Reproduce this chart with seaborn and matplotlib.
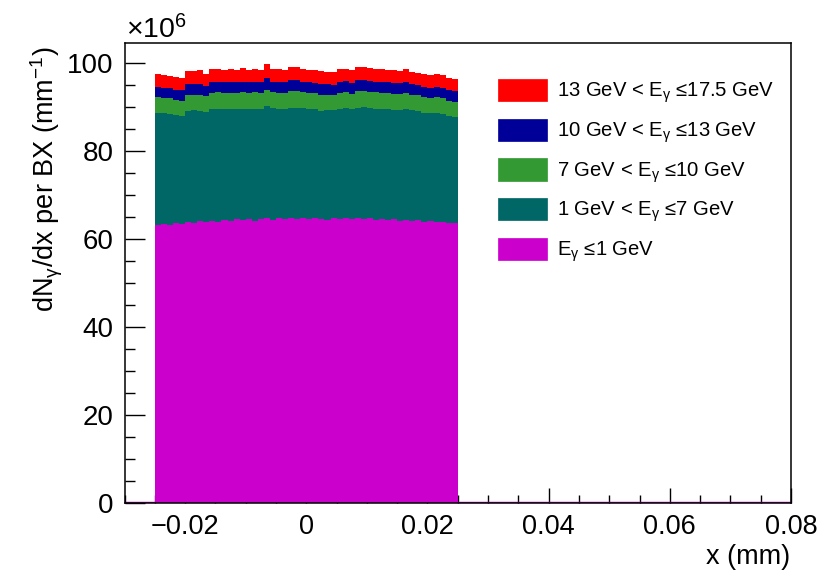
import numpy as np
import pandas as pd
import matplotlib
matplotlib.use("Agg")
import matplotlib.pyplot as plt
from matplotlib.ticker import MultipleLocator, FixedLocator, FixedFormatter
from matplotlib.patches import Patch
import seaborn as sns

# ---------------- data (units of 1e6 per mm, 50 bins from -0.025 to 0.025 mm) -------------
x_lo, x_hi, n_bins = -0.025, 0.025, 50

band_labels = [
    "13 GeV < E$_{\\gamma}$ \u226417.5 GeV",
    "10 GeV < E$_{\\gamma}$ \u226413 GeV",
    "7 GeV < E$_{\\gamma}$ \u226410 GeV",
    "1 GeV < E$_{\\gamma}$ \u22647 GeV",
    "E$_{\\gamma}$ \u22641 GeV",
]

red_13_175 = [2.8, 2.9, 2.8, 2.9, 2.7, 3.0, 2.9, 3.0, 2.8, 2.9,
              3.0, 2.9, 3.0, 2.8, 3.1, 2.9, 3.0, 2.8, 3.3, 2.9,
              3.0, 2.9, 3.1, 3.0, 2.9, 2.8, 3.0, 2.9, 2.8, 2.9,
              3.0, 2.9, 3.0, 3.1, 3.0, 2.9, 3.0, 2.9, 2.8, 2.9,
              2.8, 3.0, 2.8, 2.9, 2.8, 2.9, 2.8, 2.9, 2.7, 2.8]

blue_10_13 = [2.4, 2.3, 2.4, 2.3, 2.4, 2.5, 2.4, 2.5, 2.3, 2.5,
              2.4, 2.5, 2.4, 2.5, 2.4, 2.5, 2.4, 2.5, 2.6, 2.4,
              2.5, 2.4, 2.5, 2.5, 2.4, 2.5, 2.4, 2.5, 2.4, 2.3,
              2.5, 2.4, 2.5, 2.5, 2.4, 2.5, 2.4, 2.5, 2.4, 2.4,
              2.5, 2.4, 2.4, 2.3, 2.4, 2.3, 2.4, 2.3, 2.4, 2.3]

green_7_10 = [3.6, 3.5, 3.6, 3.5, 3.4, 3.7, 3.6, 3.7, 3.5, 3.6,
              3.7, 3.6, 3.7, 3.6, 3.7, 3.6, 3.7, 3.6, 3.8, 3.6,
              3.7, 3.6, 3.7, 3.7, 3.6, 3.7, 3.6, 3.7, 3.6, 3.5,
              3.6, 3.7, 3.6, 3.7, 3.7, 3.6, 3.7, 3.6, 3.6, 3.7,
              3.6, 3.7, 3.5, 3.6, 3.5, 3.6, 3.5, 3.6, 3.4, 3.5]

teal_1_7 = [25.4, 25.2, 25.2, 24.6, 24.7, 25.2, 25.6, 25.1, 25.2, 25.5,
            25.7, 25.2, 25.5, 25.1, 25.4, 25.0, 25.5, 25.1, 25.4, 25.4,
            24.9, 25.2, 25.0, 25.3, 25.0, 25.0, 24.7, 24.6, 24.9, 24.6,
            25.1, 25.0, 24.9, 25.0, 25.5, 25.2, 25.3, 25.1, 25.4, 24.9,
            25.2, 25.2, 25.2, 24.8, 24.9, 24.5, 25.0, 24.6, 24.5, 24.1]

magenta_0_1 = [63.3, 63.5, 63.2, 63.6, 63.4, 63.9, 63.7, 64.1, 63.8, 64.2,
               64.0, 64.4, 64.1, 64.5, 64.3, 64.6, 64.2, 64.5, 64.8, 64.4,
               64.7, 64.5, 64.9, 64.6, 64.8, 64.5, 64.9, 64.6, 64.4, 64.7,
               64.5, 64.8, 64.6, 64.9, 64.5, 64.7, 64.4, 64.6, 64.3, 64.5,
               64.2, 64.4, 64.1, 64.3, 63.9, 64.1, 63.8, 63.9, 63.6, 63.7]

band_values = [red_13_175, blue_10_13, green_7_10, teal_1_7, magenta_0_1]
band_colors = ["#FF0000", "#000099", "#339933", "#006666", "#CC00CC"]

xticks = [-0.02, 0.0, 0.02, 0.04, 0.06, 0.08]
xtick_labels = ["\u22120.02", "0", "0.02", "0.04", "0.06", "0.08"]
yticks = [0, 20, 40, 60, 80, 100]
ytick_labels = ["0", "20", "40", "60", "80", "100"]

# ---------------- build long table ----------------
bin_w = (x_hi - x_lo) / n_bins
centers = x_lo + bin_w * (np.arange(n_bins) + 0.5)
rows = []
for lab, vals in zip(band_labels, band_values):
    for c, v in zip(centers, vals):
        rows.append({"x": float(c), "w": float(v), "band": lab})
df = pd.DataFrame(rows)

# ---------------- style ----------------
sns.set_style("ticks")
plt.rcParams["font.family"] = ["Liberation Sans", "DejaVu Sans"]
plt.rcParams["mathtext.fontset"] = "custom"
plt.rcParams["mathtext.rm"] = "Liberation Sans"
plt.rcParams["mathtext.it"] = "Liberation Sans:italic"
plt.rcParams["mathtext.default"] = "regular"
for k in ["text.color", "axes.labelcolor", "xtick.color", "ytick.color", "axes.edgecolor"]:
    plt.rcParams[k] = "black"

W, H = 825, 576
fig = plt.figure(figsize=(W / 100, H / 100), dpi=100)
fig.patch.set_facecolor("white")
ax = fig.add_axes([124.5 / W, 1 - 502.7 / H, (791 - 124.5) / W, (502.7 - 42.7) / H])
ax.set_facecolor("white")

sns.histplot(data=df, x="x", weights="w", hue="band", hue_order=band_labels,
             palette=dict(zip(band_labels, band_colors)), multiple="stack",
             binwidth=bin_w, binrange=(x_lo, x_hi), element="step", fill=True,
             alpha=1, linewidth=0, legend=False, ax=ax)

ax.axhline(0, color="#CC00CC", lw=2.5, zorder=3)

ax.set_xlim(-0.03, 0.08)
ax.set_ylim(0, 104.7)
ax.set_xlabel("")
ax.set_ylabel("")

ax.xaxis.set_major_locator(FixedLocator(xticks))
ax.xaxis.set_major_formatter(FixedFormatter(xtick_labels))
ax.xaxis.set_minor_locator(MultipleLocator(0.005))
ax.yaxis.set_major_locator(FixedLocator(yticks))
ax.yaxis.set_major_formatter(FixedFormatter(ytick_labels))
ax.yaxis.set_minor_locator(MultipleLocator(5))

ax.tick_params(axis="x", which="major", direction="in", length=11, width=1,
               labelsize=19.5, pad=8, colors="black")
ax.tick_params(axis="x", which="minor", direction="in", length=5.5, width=1, colors="black")
ax.tick_params(axis="y", which="major", direction="in", length=14.5, width=1,
               labelsize=20, pad=8, colors="black")
ax.tick_params(axis="y", which="minor", direction="in", length=7, width=1, colors="black")
for s in ax.spines.values():
    s.set_visible(True)
    s.set_linewidth(1.1)
    s.set_color("black")
    s.set_zorder(5)

# axis titles (ROOT style)
fig.text(790 / W, 1 - 557 / H, "x (mm)", ha="right", va="center", fontsize=19.5)
fig.text(47 / W, 1 - 46 / H, "dN$_{\\gamma}$/dx per BX (mm$^{-1}$)", rotation=90,
         ha="center", va="top", fontsize=19.5)
fig.text(126 / W, 1 - 38 / H, "\u00d710$^{6}$", ha="left", va="baseline", fontsize=20.5)

# legend
handles = [Patch(facecolor=c, edgecolor=c, linewidth=0.5) for c in band_colors]
leg = ax.legend(handles, band_labels, loc="upper left",
                bbox_to_anchor=(498 / W, 1 - 79 / H), bbox_transform=fig.transFigure,
                frameon=False, fontsize=14.6, handlelength=2.42, handleheight=1.32,
                labelspacing=0.66, handletextpad=0.5, borderpad=0, borderaxespad=0)

fig.savefig("out.png", dpi=100, facecolor="white")
